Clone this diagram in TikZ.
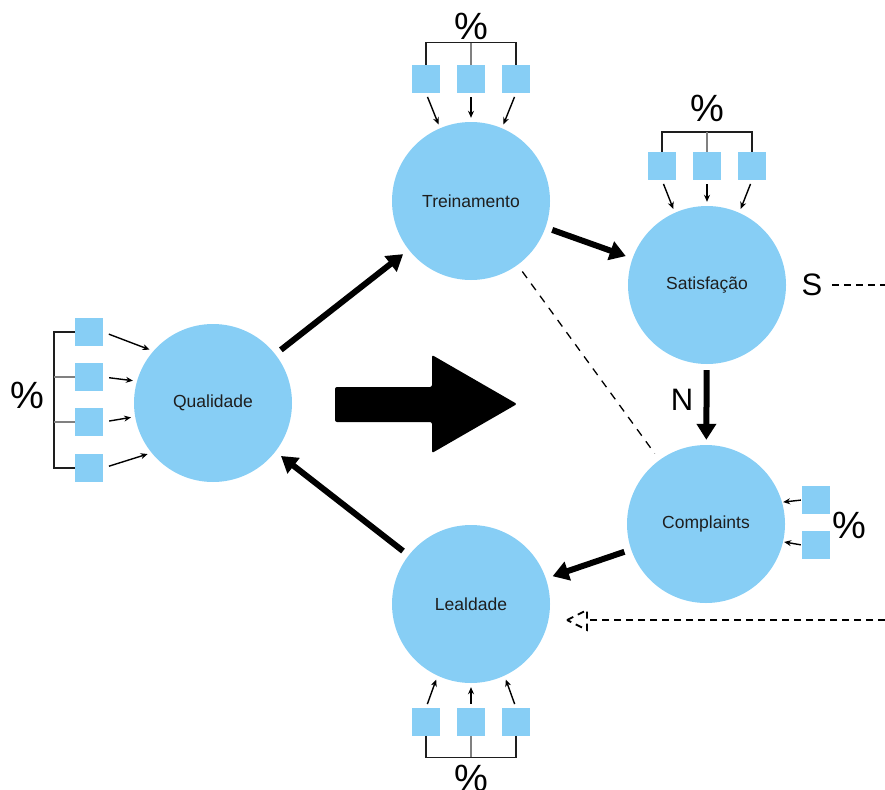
\documentclass[tikz,border=0pt]{standalone}
\usepackage{fontspec}
\setmainfont{Liberation Sans}
\usetikzlibrary{arrows.meta}

\definecolor{bubble}{RGB}{135,206,245}
\definecolor{ink}{RGB}{30,30,30}

\begin{document}
\begin{tikzpicture}[x=1pt, y=-1pt,
    stage/.style={circle, fill=bubble, minimum size=158pt, inner sep=0pt, text=ink, font=\fontsize{17.5}{20}\selectfont},
    item/.style={rectangle, fill=bubble, minimum size=28pt, inner sep=0pt},
    pct/.style={text=black, font=\fontsize{38}{40}\selectfont},
    answer/.style={text=black, font=\fontsize{31}{34}\selectfont},
    branch/.style={line width=1.4pt, draw=ink},
    feed/.style={line width=1.4pt, -{Stealth[length=7pt,width=6pt]}, shorten <=4pt, shorten >=4pt},
    flow/.style={line width=6pt, -{Triangle[length=16pt,width=19pt]}, shorten <=7pt, shorten >=7pt},
    dashline/.style={line width=1.8pt, dash pattern=on 7pt off 5pt},
    link/.style={line width=1.3pt, dash pattern=on 8pt off 7pt, shorten <=8pt, shorten >=8pt}]
    \useasboundingbox (0,0) rectangle (885,789);

    % stages
    \node[stage] (qual) at (213,403) {Qualidade};
    \node[stage] (trein) at (471,201) {Treinamento};
    \node[stage] (satis) at (707,285) {Satisfação};
    \node[stage] (compl) at (706,524) {Complaints};
    \node[stage] (leal) at (471,604) {Lealdade};

    % items
    \node[item] (tr1) at (426,79) {};
    \node[item] (tr2) at (471,79) {};
    \node[item] (tr3) at (516,79) {};
    \node[item] (sa1) at (662,166) {};
    \node[item] (sa2) at (707,166) {};
    \node[item] (sa3) at (752,166) {};
    \node[item] (le1) at (426,722) {};
    \node[item] (le2) at (471,722) {};
    \node[item] (le3) at (516,722) {};
    \node[item] (qa1) at (89,332) {};
    \node[item] (qa2) at (89,377) {};
    \node[item] (qa3) at (89,422) {};
    \node[item] (qa4) at (89,468) {};
    \node[item] (co1) at (816,500) {};
    \node[item] (co2) at (816,545) {};

    % percent labels
    \node[pct] (ptr) at (471,26) {\%};
    \node[pct] (psa) at (707,108) {\%};
    \node[pct] (ple) at (471,778) {\%};
    \node[pct] (pqa) at (27,395) {\%};
    \node[pct] (pco) at (849,525) {\%};

    % brackets
    \draw[branch] (tr1.north) -- ++(0,-22) -| (tr3.north);
    \draw[branch, draw=gray] (tr2.north) -- ++(0,-22);
    \draw[branch] (sa1.north) -- ++(0,-20) -| (sa3.north);
    \draw[branch, draw=gray] (sa2.north) -- ++(0,-20);
    \draw[branch] (le1.south) -- ++(0,21) -| (le3.south);
    \draw[branch, draw=gray] (le2.south) -- ++(0,21);
    \draw[branch] (qa1.west) -- ++(-21,0) |- (qa4.west);
    \draw[branch, draw=gray] (qa2.west) -- ++(-21,0);
    \draw[branch, draw=gray] (qa3.west) -- ++(-21,0);

    % item arrows
    \draw[feed] (tr1.south) -- (trein.113);
    \draw[feed] (tr2.south) -- (trein.90);
    \draw[feed] (tr3.south) -- (trein.67);
    \draw[feed] (sa1.south) -- (satis.114);
    \draw[feed] (sa2.south) -- (satis.90);
    \draw[feed] (sa3.south) -- (satis.66);
    \draw[feed] (le1.north) -- (leal.245);
    \draw[feed] (le2.north) -- (leal.270);
    \draw[feed] (le3.north) -- (leal.295);
    \draw[feed, shorten <=6pt] (qa1.east) -- (qual.139);
    \draw[feed, shorten <=6pt] (qa2.east) -- (qual.164);
    \draw[feed, shorten <=6pt] (qa3.east) -- (qual.190);
    \draw[feed, shorten <=6pt] (qa4.east) -- (qual.219);
    \draw[feed, shorten <=1pt, shorten >=1pt] (co1.west) -- (compl.16);
    \draw[feed, shorten <=1pt, shorten >=1pt] (co2.west) -- (compl.347);

    % main cycle
    \draw[flow] (qual) -- (trein);
    \draw[flow] (trein) -- (satis);
    \draw[flow, shorten <=6pt, shorten >=5pt] (satis) -- (compl);
    \draw[flow] (compl) -- (leal);
    \draw[flow] (leal) -- (qual);
    \node[answer] (nlab) at (682,400) {N};
    \node[answer] (slab) at (812,285) {S};

    % dashed links
    \draw[link] (trein) -- (compl);
    \coordinate (send) at (885,285);
    \draw[dashline, shorten <=6pt] (slab.east) -- (send);
    \coordinate (lin) at (885,620);
    \coordinate (ltip) at (567,620);
    \draw[dashline] (lin) -- ([xshift=20pt]ltip);
    \draw[dashline] (ltip) -- ++(20,-10) -- ++(0,20) -- cycle;

    % big arrow
    \fill[black, rounded corners=2pt] (335,387) -- (432,387) -- (432,355) -- (517,404)
        -- (432,453) -- (432,422) -- (335,422) -- cycle;
\end{tikzpicture}
\end{document}
